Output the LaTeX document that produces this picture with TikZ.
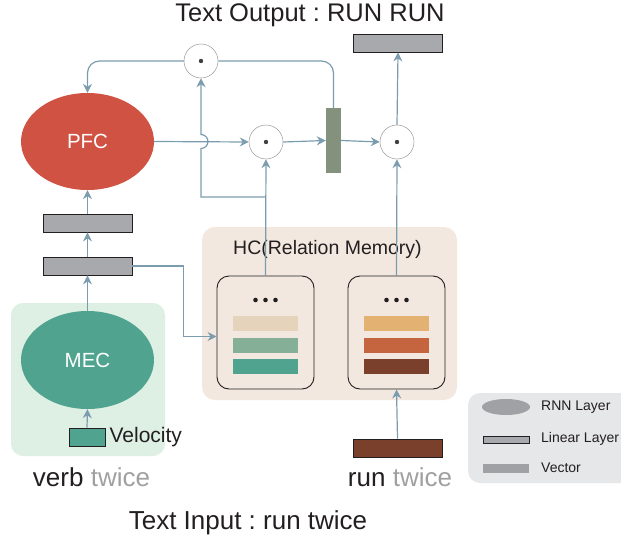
\documentclass[tikz,border=0pt]{standalone}
\usepackage{fontspec}
\setmainfont{Liberation Sans}
\usepackage{tikz}
\usetikzlibrary{arrows}
\usetikzlibrary{arrows.meta}
\usetikzlibrary{shapes.geometric}
\usetikzlibrary{positioning}
\definecolor{pfcred}{HTML}{D05242}
\definecolor{mecgreen}{HTML}{50A48F}
\definecolor{mecbg}{HTML}{DEEFE4}
\definecolor{hcbg}{HTML}{F2E8DF}
\definecolor{flowblue}{HTML}{7B9CAE}
\definecolor{bargray}{HTML}{A7A9AC}
\definecolor{gategreen}{HTML}{84917D}
\definecolor{legendbg}{HTML}{E6E7E8}
\definecolor{legendgray}{HTML}{A0A1A4}
\definecolor{inkdark}{HTML}{231F20}
\definecolor{softgray}{HTML}{A0A0A0}
\definecolor{stripea}{HTML}{E5D3BB}
\definecolor{stripeb}{HTML}{86AF97}
\definecolor{stripec}{HTML}{50A48F}
\definecolor{striped}{HTML}{E3B172}
\definecolor{stripee}{HTML}{C4653F}
\definecolor{stripef}{HTML}{7B402B}
\tikzset{flow/.style = {draw=flowblue, line width=1.2pt,
                        -{Stealth[length=9pt, width=9pt, inset=3pt]}}}
\tikzset{wire/.style = {draw=flowblue, line width=1.2pt}}
\tikzset{rnn/.style = {ellipse, minimum width=133pt, minimum height=97pt, inner sep=0,
                       text=white, font=\fontsize{20.5}{24}\selectfont}}
\tikzset{linbar/.style = {draw=inkdark, fill=bargray, line width=0.8pt, inner sep=0,
                          minimum width=89pt, minimum height=18pt}}
\tikzset{gatedot/.style = {circle, draw=gray!80, line width=0.5pt, fill=white, inner sep=0,
                           minimum size=34pt,
                           path picture={\fill[black!75] (path picture bounding box.center) circle (2.2pt);}}}
\tikzset{card/.style = {draw=inkdark, line width=0.9pt, rounded corners=12pt, inner sep=0,
                        minimum width=97pt, minimum height=113pt}}
\tikzset{stripe/.style = {inner sep=0, minimum width=65pt, minimum height=15pt}}
\tikzset{lbl/.style = {text=inkdark, inner sep=0}}

\begin{document}
\frenchspacing
\begin{tikzpicture}[x=1pt, y=1pt]
  \useasboundingbox (0,0) rectangle (621,-543);

  % backgrounds
  \fill [mecbg, rounded corners=12pt] (11,-303) rectangle (165,-456);
  \fill [hcbg, rounded corners=13pt] (202,-227) rectangle (457,-400);
  \fill [legendbg, rounded corners=12pt] (468,-393) rectangle (650,-483);

  % nodes
  \node [rnn, fill=pfcred] (pfc) at (87.5,-141.5) {PFC};
  \node [rnn, fill=mecgreen, minimum height=98pt] (mec) at (87.5,-360) {MEC};
  \node [linbar] (lin1) at (87.5,-223) {};
  \node [linbar] (lin2) at (87.5,-266) {};
  \node [draw=inkdark, fill=mecgreen, line width=0.8pt, inner sep=0,
         minimum width=36pt, minimum height=18pt] (vel) at (87,-437) {};
  \node [lbl, anchor=west, font=\fontsize{21}{24}\selectfont] (veltxt) at ([xshift=4pt]vel.east) {Velocity};

  \node [gatedot] (dtop) at (201,-61) {};
  \node [gatedot] (dmid) at (266,-142) {};
  \node [gatedot] (dout) at (397,-142) {};
  \node [fill=gategreen, inner sep=0, minimum width=15pt, minimum height=65pt] (gate) at (333.5,-140.5) {};
  \node [linbar] (outbar) at (398,-43) {};

  \node [lbl, font=\fontsize{19.5}{23}\selectfont] (hctxt) at (327.5,-249) {HC(Relation Memory)};
  \node [card] (hcl) at (265.5,-332.5) {};
  \node [card] (hcr) at (396.5,-332.5) {};
  \foreach \dx in {-10,0,10} {
    \fill [inkdark] ([xshift=\dx pt]hcl.center |- 0,-300) circle (2.3pt);
    \fill [inkdark] ([xshift=\dx pt]hcr.center |- 0,-300) circle (2.3pt);
  }
  \node [stripe, fill=stripea] (la) at (265.5,-323.5) {};
  \node [stripe, fill=stripeb] (lb) at (265.5,-345.5) {};
  \node [stripe, fill=stripec] (lc) at (265.5,-366.5) {};
  \node [stripe, fill=striped] (ra) at (396.5,-323.5) {};
  \node [stripe, fill=stripee] (rb) at (396.5,-345.5) {};
  \node [stripe, fill=stripef] (rc) at (396.5,-366.5) {};

  \node [linbar, fill=stripef] (runbar) at (397.5,-448) {};

  % texts
  \node [lbl, font=\fontsize{25.5}{30}\selectfont] (outtxt) at (310,-15) {Text Output : RUN RUN};
  \node [lbl, font=\fontsize{26}{30}\selectfont] (intxt) at (248,-523) {Text Input : run twice};
  \node [lbl, font=\fontsize{26}{30}\selectfont] (verbtxt) at (91.5,-477) {verb \textcolor{softgray}{twice}};
  \node [lbl, font=\fontsize{26}{30}\selectfont] (runtxt) at (400,-477) {run \textcolor{softgray}{twice}};

  % legend
  \node [ellipse, fill=legendgray, inner sep=0, minimum width=48pt, minimum height=16pt] (leg1) at (506,-407) {};
  \node [draw=inkdark, fill=bargray, line width=0.6pt, inner sep=0, minimum width=46pt, minimum height=7pt] (leg2) at (506,-439.5) {};
  \node [fill=legendgray, inner sep=0, minimum width=46pt, minimum height=9pt] (leg3) at (506,-468.5) {};
  \node [lbl, anchor=west, font=\fontsize{14}{16}\selectfont] at (541,-407) {RNN Layer};
  \node [lbl, anchor=west, font=\fontsize{14}{16}\selectfont] at (541,-439) {Linear Layer};
  \node [lbl, anchor=west, font=\fontsize{14}{16}\selectfont] at (541,-468) {Vector};

  % connectors
  \draw [flow] (vel.north) -- (mec.south);
  \draw [flow] (mec.north) -- (lin2.south);
  \draw [flow] (lin2.north) -- (lin1.south);
  \draw [flow] (lin1.north) -- (pfc.south);
  \draw [flow] (lin2.east) -| ([xshift=-33pt,yshift=-4pt]hcl.west) -- ([yshift=-4pt]hcl.west);
  \draw [flow] (runbar.north) -- (hcr.south);

  \draw [flow, rounded corners=12pt] (dtop.west) -| (pfc.north);
  \draw [wire, rounded corners=12pt] (gate.north) |- (dtop.east);
  \draw [flow] (pfc.east) -- (dmid.west);
  \coordinate (split) at (265.5,-197);
  \draw [flow] (hcl.north) -- (dmid.south);
  \draw [flow] (split) -| ([yshift=-7pt]dtop.south |- pfc.east)
               arc [start angle=-90, end angle=90, radius=7pt] -- (dtop.south);
  \draw [flow] (dmid.east) -- (gate.west);
  \draw [flow] (gate.east) -- (dout.west);
  \draw [flow] (hcr.north) -- (dout.south);
  \draw [flow] (dout.north) -- (outbar.south);
\end{tikzpicture}
\end{document}
